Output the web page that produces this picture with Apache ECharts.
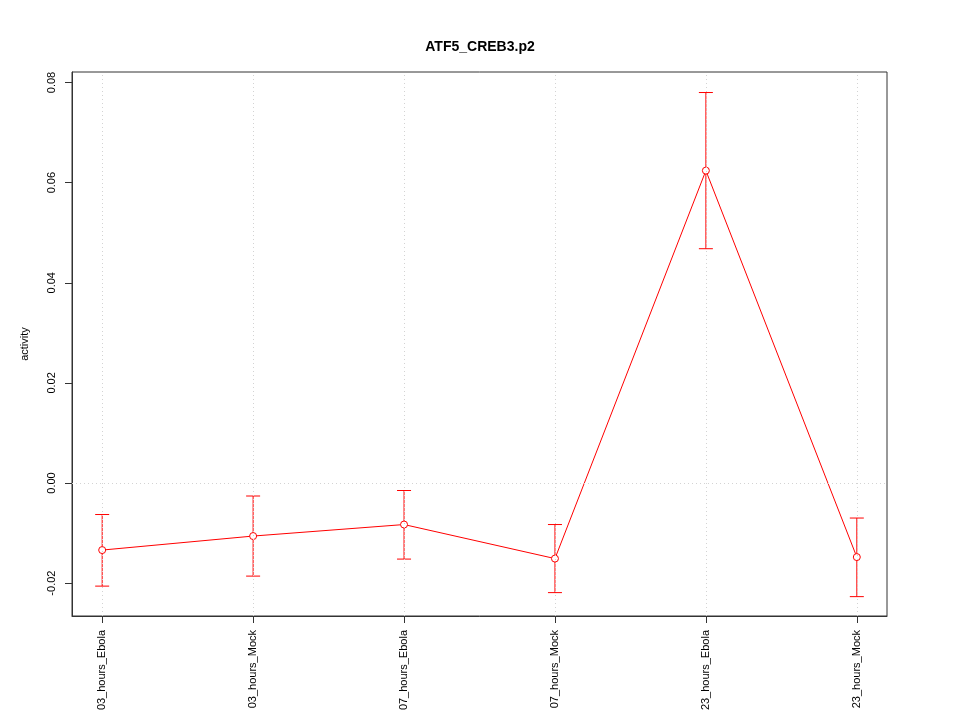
<!DOCTYPE html>
<html>
<head>
<meta charset="utf-8">
<script src="https://cdn.jsdelivr.net/npm/echarts@6/dist/echarts.min.js"></script>
<style>html,body{margin:0;padding:0;background:#fff}#c{width:960px;height:720px}</style>
</head>
<body>
<div id="c"></div>
<script>
var categories = ["03_hours_Ebola","03_hours_Mock","07_hours_Ebola","07_hours_Mock","23_hours_Ebola","23_hours_Mock"];
var activity = [-0.0134, -0.0106, -0.0083, -0.0151, 0.0624, -0.0148];
var errLow = [-0.0206, -0.0186, -0.0152, -0.0219, 0.0468, -0.0227];
var errHigh = [-0.0063, -0.0026, -0.0015, -0.0083, 0.0780, -0.0070];
var yTicks = [-0.02, 0.00, 0.02, 0.04, 0.06, 0.08];
var title = "ATF5_CREB3.p2";
var yName = "activity";

var idx = categories.map(function(_, i){ return i; });
var lineData = activity.map(function(v, i){ return [i, v]; });
var errData = errLow.map(function(v, i){ return [i, v, errHigh[i]]; });
var FONT = '"Liberation Sans", Arial, sans-serif';
var RED = '#FF0000';

var chart = echarts.init(document.getElementById('c'), null, {renderer: 'canvas'});
chart.setOption({
  animation: false,
  backgroundColor: '#fff',
  title: {
    text: title, left: 'center', top: 35,
    textStyle: {fontFamily: FONT, fontWeight: 'bold', fontSize: 14, color: '#000'}
  },
  grid: {left: 72, right: 73, top: 72, bottom: 104, show: true, borderColor: '#333', borderWidth: 1, backgroundColor: 'transparent'},
  xAxis: {
    type: 'value', min: -0.2, max: 5.2,
    axisLine: {show: true, onZero: false, lineStyle: {color: '#333'}},
    axisTick: {show: true, length: 7, customValues: idx, lineStyle: {color: '#333'}},
    axisLabel: {
      show: true, customValues: idx, rotate: 90, margin: 14,
      fontFamily: FONT, fontSize: 11, color: '#000',
      formatter: function(v){ return categories[Math.round(v)]; }
    },
    splitLine: {show: false}
  },
  yAxis: {
    type: 'value', min: -0.02657, max: 0.0821,
    name: yName, nameLocation: 'middle', nameGap: 42, nameRotate: 90,
    nameTextStyle: {fontFamily: FONT, fontSize: 11, color: '#000'},
    axisLine: {show: true, onZero: false, lineStyle: {color: '#333'}},
    axisTick: {show: true, length: 7, customValues: yTicks, lineStyle: {color: '#333'}},
    axisLabel: {
      show: true, customValues: yTicks, rotate: 90, margin: 15,
      fontFamily: FONT, fontSize: 11, color: '#000',
      formatter: function(v){ return v.toFixed(2); }
    },
    splitLine: {show: false}
  },
  series: [
    {
      type: 'custom',
      data: errData,
      encode: {x: 0, y: [1, 2]},
      z: 3,
      silent: true,
      renderItem: function(params, api){
        var x = api.value(0);
        var lo = api.coord([x, api.value(1)]);
        var hi = api.coord([x, api.value(2)]);
        var hw = 7;
        var st = {stroke: RED, lineWidth: 1};
        return {
          type: 'group',
          children: [
            {type: 'line', shape: {x1: lo[0], y1: lo[1], x2: hi[0], y2: hi[1]}, style: st},
            {type: 'line', shape: {x1: lo[0]-hw, y1: lo[1], x2: lo[0]+hw, y2: lo[1]}, style: st},
            {type: 'line', shape: {x1: hi[0]-hw, y1: hi[1], x2: hi[0]+hw, y2: hi[1]}, style: st}
          ]
        };
      }
    },
    {
      type: 'line',
      data: lineData,
      z: 4,
      symbol: 'circle',
      symbolSize: 7,
      lineStyle: {color: RED, width: 1},
      itemStyle: {color: '#fff', borderColor: RED, borderWidth: 1},
      emphasis: {disabled: true},
      markLine: {
        silent: true, symbol: ['none', 'none'],
        label: {show: false},
        lineStyle: {color: '#D3D3D3', type: [1, 3], width: 1},
        data: idx.map(function(i){ return {xAxis: i}; }).concat([{yAxis: 0}])
      }
    }
  ]
});
</script>
</body>
</html>
